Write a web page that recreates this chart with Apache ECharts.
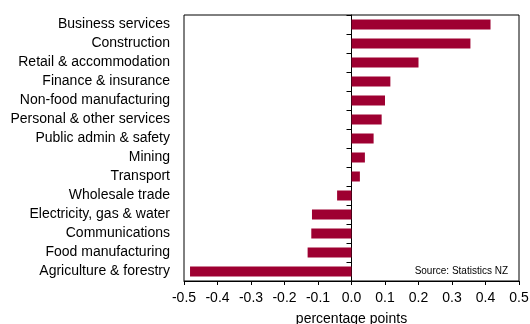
<!DOCTYPE html>
<html>
<head>
<meta charset="utf-8">
<script src="https://cdn.jsdelivr.net/npm/echarts@6/dist/echarts.min.js"></script>
<style>
  html, body { margin: 0; padding: 0; background: #fff; }
  #chart { width: 530px; height: 324px; }
</style>
</head>
<body>
<div id="chart"></div>
<script>
// Industry contributions, percentage points
var industries = [
  'Business services',
  'Construction',
  'Retail & accommodation',
  'Finance & insurance',
  'Non-food manufacturing',
  'Personal & other services',
  'Public admin & safety',
  'Mining',
  'Transport',
  'Wholesale trade',
  'Electricity, gas & water',
  'Communications',
  'Food manufacturing',
  'Agriculture & forestry'
];
var contributions = [0.415, 0.355, 0.20, 0.116, 0.10, 0.09, 0.066, 0.04, 0.025, -0.043, -0.118, -0.12, -0.131, -0.482];
var xTicks = [-0.5, -0.4, -0.3, -0.2, -0.1, 0.0, 0.1, 0.2, 0.3, 0.4, 0.5];

var font = 'Arial, "Liberation Sans", sans-serif';
var chart = echarts.init(document.getElementById('chart'), null, { renderer: 'canvas' });

chart.setOption({
  animation: false,
  backgroundColor: '#ffffff',
  grid: {
    left: 184, right: 11, top: 15, bottom: 43,
    containLabel: false,
    outerBoundsMode: 'none',
    show: true, borderColor: '#000', borderWidth: 1, backgroundColor: 'transparent'
  },
  xAxis: {
    type: 'value',
    min: xTicks[0],
    max: xTicks[xTicks.length - 1],
    interval: 0.1,
    name: 'percentage points',
    nameLocation: 'middle',
    nameGap: 31,
    nameTextStyle: { fontFamily: font, fontSize: 14, color: '#000' },
    axisLine: { show: true, onZero: false, lineStyle: { color: '#000', width: 1 } },
    axisTick: { show: true, length: 4, lineStyle: { color: '#000' } },
    axisLabel: {
      fontFamily: font, fontSize: 14, color: '#000', margin: 10,
      formatter: function (v) { return (Math.round(v * 10) / 10).toFixed(1); }
    },
    splitLine: { show: false }
  },
  yAxis: [
    {
      type: 'category',
      data: industries,
      inverse: true,
      position: 'left',
      axisLine: { show: false, onZero: false },
      axisTick: { show: false },
      axisLabel: { fontFamily: font, fontSize: 14, color: '#000', margin: 14 },
      splitLine: { show: false }
    },
    {
      type: 'category',
      data: industries,
      inverse: true,
      position: 'left',
      axisLine: { show: true, onZero: true, lineStyle: { color: '#000', width: 1 } },
      axisTick: { show: true, length: 5, lineStyle: { color: '#000' } },
      axisLabel: { show: false },
      splitLine: { show: false }
    }
  ],
  series: [{
    type: 'bar',
    data: contributions,
    yAxisIndex: 0,
    barWidth: 10,
    itemStyle: { color: '#9e0031' }
  }],
  graphic: [{
    type: 'text',
    right: 22,
    top: 266,
    style: { text: 'Source: Statistics NZ', font: '10px ' + font, fill: '#000' }
  }]
});
</script>
</body>
</html>
